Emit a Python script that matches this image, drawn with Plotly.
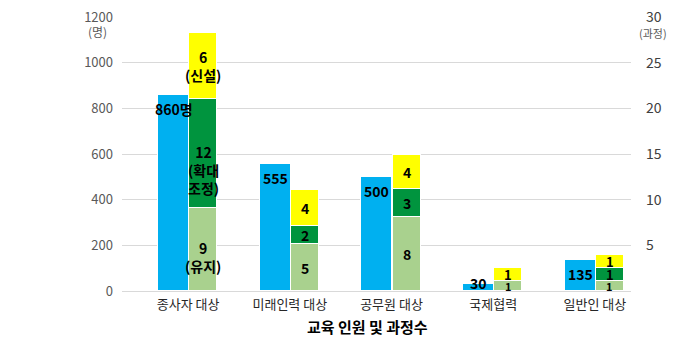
import plotly.graph_objects as go

categories = ["종사자 대상", "미래인력 대상", "공무원 대상", "국제협력", "일반인 대상"]
people = [860, 555, 500, 30, 135]
people_labels = ["860명", "555", "500", "30", "135"]

# course bar segment heights as drawn (right axis, 과정)
course_keep = [9.1, 5.1, 8.1, 1.1, 1.1]
course_expand = [11.9, 2.0, 3.1, 0, 1.4]
course_new = [7.2, 4.0, 3.7, 1.4, 1.4]
keep_labels = ["9<br>(유지)", "5", "8", "1", "1"]
expand_labels = ["12<br>(확대<br>조정)", "2", "3", "", "1"]
new_labels = ["6<br>(신설)", "4", "4", "1", "1"]

left_ticks = [0, 200, 400, 600, 800, 1000, 1200]
right_ticks = [5, 10, 15, 20, 25, 30]

BLUE = "#00B0F0"
LGREEN = "#A9D18E"
DGREEN = "#00943E"
YELLOW = "#FFFF00"
FONT = "Noto Sans CJK KR"

n = len(categories)
xb = [i - 0.143 for i in range(n)]
xs = [i + 0.148 for i in range(n)]

fig = go.Figure()
fig.add_trace(go.Bar(x=xb, y=people, width=0.305, marker=dict(color=BLUE, line=dict(color="white", width=1)),
                     yaxis="y", showlegend=False, hoverinfo="skip"))
for vals, col in [(course_keep, LGREEN), (course_expand, DGREEN), (course_new, YELLOW)]:
    fig.add_trace(go.Bar(x=xs, y=vals, width=0.276, marker=dict(color=col, line=dict(color="white", width=1)),
                         yaxis="y2", showlegend=False, hoverinfo="skip"))

ann = []
for i in range(n):
    ann.append(dict(x=xb[i], y=max(people[i], 95), xref="x", yref="y", text=f"<b>{people_labels[i]}</b>",
                    showarrow=False, xanchor="center", yanchor="top", yshift=-2,
                    font=dict(family=FONT, size=14, color="black")))
base = [0] * n
shifts = {(0, 0): -8, (0, 1): -16}
small = {(3, 0), (4, 0)}
tight = {(3, 2), (4, 1), (4, 2)}
for s, (vals, labs) in enumerate([(course_keep, keep_labels), (course_expand, expand_labels), (course_new, new_labels)]):
    for i in range(n):
        if labs[i]:
            sz = 11 if (i, s) in small else (13 if (i, s) in tight else 14)
            ann.append(dict(x=xs[i], y=base[i] + vals[i] / 2, xref="x", yref="y2", text=f"<b>{labs[i]}</b>",
                            showarrow=False, xanchor="center", yanchor="middle", yshift=shifts.get((i, s), 0),
                            font=dict(family=FONT, size=sz, color="black")))
        base[i] += vals[i]

L, R, T, B = 122, 49, 17, 55
pw, ph = 680 - L - R, 346 - T - B


def px(xp, yp):
    return (xp - L) / pw, (346 - B - yp) / ph


for (xp, yp), txt, sz, col in [((97, 32), "(명)", 12, "#595959"),
                               ((653, 33), "(과정)", 11, "#595959"),
                               ((367, 326), "<b>교육 인원 및 과정수</b>", 15, "black")]:
    xx, yy = px(xp, yp)
    ann.append(dict(x=xx, y=yy, xref="paper", yref="paper", text=txt, showarrow=False,
                    xanchor="center", yanchor="middle", font=dict(family=FONT, size=sz, color=col)))

fig.update_layout(
    width=680, height=346,
    margin=dict(l=L, r=R, t=T, b=B, autoexpand=False),
    paper_bgcolor="white", plot_bgcolor="white",
    barmode="stack", bargap=0,
    font=dict(family=FONT),
    xaxis=dict(range=[-0.65, 4.355], tickvals=list(range(n)), ticktext=categories, showgrid=False,
               zeroline=False, showline=False, ticks="", ticklabelstandoff=4, automargin=False,
               tickfont=dict(size=13, color="#262626")),
    yaxis=dict(range=[0, 1200], tickvals=left_ticks, showgrid=True, gridcolor="#D9D9D9", gridwidth=1,
               zeroline=True, zerolinecolor="#D9D9D9", zerolinewidth=1, ticks="", ticklabelstandoff=8,
               automargin=False, tickfont=dict(size=13, color="#595959")),
    yaxis2=dict(range=[0, 30], tickvals=right_ticks, overlaying="y", side="right", showgrid=False,
                zeroline=False, ticks="", ticklabelstandoff=14, automargin=False,
                tickfont=dict(size=14, color="#404040")),
    annotations=ann,
)
fig.write_html("out.html")
